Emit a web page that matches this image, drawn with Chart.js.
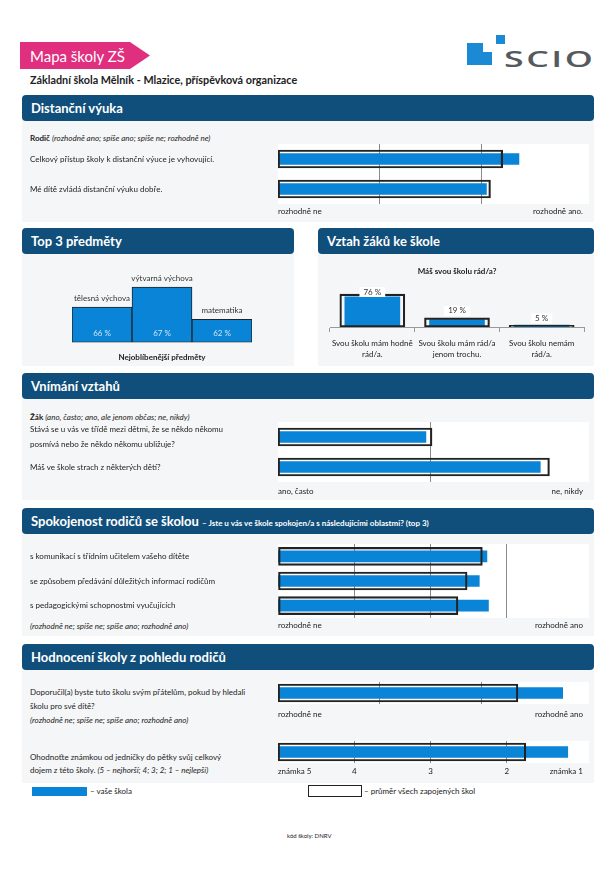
<!DOCTYPE html>
<html lang="cs">
<head>
<meta charset="UTF-8">
<title>Mapa školy ZŠ</title>
<script src="https://cdn.jsdelivr.net/npm/chart.js"></script>
<style>
  body { margin:0; width:616px; height:871px; position:relative; background:#fff; font-family: Lato, "Open Sans", sans-serif; color:#222; overflow:hidden; }
  .hdr { position:absolute; background:#104f7b; color:#fff; font-weight:bold; font-size:13px; border-radius:4px; padding-left:9px; box-sizing:border-box; height:26px; line-height:26px; white-space:nowrap; }
  .hdr small { font-size:8px; }
  .sec { position:absolute; background:#f5f6f7; }
  .t { position:absolute; font-size:8px; line-height:12px; white-space:nowrap; }
  canvas { position:absolute; }
</style>
</head>
<body>
<script>
// ---- data ----
// Distanční výuka (1 = rozhodně ne ... 4 = rozhodně ano)
const distLabels = ['Celkový přístup školy k distanční výuce je vyhovující.', 'Mé dítě zvládá distanční výuku dobře.'];
const distSchool = [3.37, 3.05];
const distAvg = [3.21, 3.09];
const distAxis = ['rozhodně ne', 'rozhodně ano.'];

// Top 3 předměty
const subjLabels = ['tělesná výchova', 'výtvarná výchova', 'matematika'];
const subjPct = [66, 67, 62];
const subjPodium = [35, 55, 23];   // bar heights as printed

// Vztah žáků ke škole
const likeLabels = [['Svou školu mám hodně', 'rád/a.'], ['Svou školu mám rád/a', 'jenom trochu.'], ['Svou školu nemám', 'rád/a.']];
const likeSchool = [76, 19, 5];
const likeAvg = [83, 23, 4];

// Vnímání vztahů (1 = ano, často ... 3 = ne, nikdy)
const relLabels = [['Stává se u vás ve třídě mezi dětmi, že se někdo někomu', 'posmívá nebo že někdo někomu ubližuje?'], 'Máš ve škole strach z některých dětí?'];
const relSchool = [1.97, 2.72];
const relAvg = [2.01, 2.78];
const relAxis = ['ano, často', 'ne, nikdy'];

// Spokojenost rodičů se školou (top 3)
const satLabels = ['s komunikací s třídním učitelem vašeho dítěte', 'se způsobem předávání důležitých informací rodičům', 's pedagogickými schopnostmi vyučujících'];
const satSchool = [68.5, 66, 69];
const satAvg = [67, 62, 59];
const satAxis = ['rozhodně ne', 'rozhodně ano'];

// Hodnocení školy z pohledu rodičů
const recSchool = [3.80];
const recAvg = [3.36];
const gradeSchool = [1.20];
const gradeAvg = [1.75];
const gradeTicks = ['známka 5', '4', '3', '2', 'známka 1'];

const BLUE = '#0a84d6';
const DARK = '#222';
</script>

<!-- header -->
<div style="position:absolute;left:20px;top:42px;width:130px;height:27px;background:#df2f7e;clip-path:polygon(0 0,110px 0,130px 50%,110px 100%,0 100%);"></div>
<div class="t" style="left:30px;top:46px;font-size:15px;line-height:20px;color:#fff;">Mapa školy ZŠ</div>
<div style="position:absolute;left:467px;top:43px;width:25px;height:22px;background:#1a8ad4;"></div>
<div style="position:absolute;left:483px;top:43px;width:9px;height:9px;background:#fff;"></div>
<div style="position:absolute;left:496px;top:35px;width:9px;height:9px;background:#1a8ad4;"></div>
<div class="t" style="left:504px;top:45px;font-family:'Open Sans',sans-serif;font-weight:600;font-size:21px;line-height:28px;letter-spacing:1.5px;color:#555a5e;transform:scaleX(1.7);transform-origin:left center;">SCIO</div>
<div class="t" style="left:30px;top:73px;font-size:10.8px;line-height:14px;font-weight:bold;">Základní škola Mělník - Mlazice, příspěvková organizace</div>

<!-- sections -->
<div class="sec" style="left:22px;top:110px;width:572px;height:112px;"></div>
<div class="hdr" style="left:22px;top:95px;width:572px;">Distanční výuka</div>
<div class="t" style="left:30px;top:132px;"><b>Rodič</b> <i>(rozhodně ano; spíše ano; spíše ne; rozhodně ne)</i></div>

<div class="sec" style="left:22px;top:244px;width:272px;height:122px;"></div>
<div class="hdr" style="left:22px;top:228px;width:272px;">Top 3 předměty</div>
<div class="sec" style="left:318px;top:244px;width:276px;height:122px;"></div>
<div class="hdr" style="left:318px;top:228px;width:276px;">Vztah žáků ke škole</div>

<div class="sec" style="left:22px;top:388px;width:572px;height:112px;"></div>
<div class="hdr" style="left:22px;top:373px;width:572px;">Vnímání vztahů</div>
<div class="t" style="left:30px;top:411px;"><b>Žák</b> <i>(ano, často; ano, ale jenom občas; ne, nikdy)</i></div>

<div class="sec" style="left:22px;top:523px;width:572px;height:113px;"></div>
<div class="hdr" style="left:22px;top:508px;width:572px;">Spokojenost rodičů se školou <small>– Jste u vás ve škole spokojen/a s následujícími oblastmi? (top 3)</small></div>
<div class="t" style="left:30px;top:620px;"><i>(rozhodně ne; spíše ne; spíše ano; rozhodně ano)</i></div>

<div class="sec" style="left:22px;top:659px;width:572px;height:124px;"></div>
<div class="hdr" style="left:22px;top:644px;width:572px;">Hodnocení školy z pohledu rodičů</div>
<div class="t" style="left:30px;top:685px;line-height:14px;">Doporučil(a) byste tuto školu svým přátelům, pokud by hledali<br>školu pro své dítě?<br><i>(rozhodně ne; spíše ne; spíše ano; rozhodně ano)</i></div>
<div class="t" style="left:30px;top:751px;line-height:13px;">Ohodnoťte známkou od jedničky do pětky svůj celkový<br>dojem z této školy. <i>(5 – nejhorší; 4; 3; 2; 1 – nejlepší)</i></div>

<!-- legend -->
<div style="position:absolute;left:32px;top:787px;width:55px;height:9px;background:#0a84d6;"></div>
<div class="t" style="left:90px;top:785px;">– vaše škola</div>
<div style="position:absolute;left:308px;top:785px;width:54px;height:12px;border:1.5px solid #222;box-sizing:border-box;background:#fff;"></div>
<div class="t" style="left:364px;top:785px;">– průměr všech zapojených škol</div>
<div class="t" style="left:287px;top:830px;font-size:6px;">kód školy: DNRV</div>

<canvas id="cDist" width="572" height="82" style="left:22px;top:140px;"></canvas>
<canvas id="cSubj" width="210" height="102" style="left:60px;top:262px;"></canvas>
<canvas id="cLike" width="276" height="99" style="left:318px;top:264px;"></canvas>
<canvas id="cRel" width="572" height="82" style="left:22px;top:418px;"></canvas>
<canvas id="cSat" width="572" height="96" style="left:22px;top:540px;"></canvas>
<canvas id="cRec" width="572" height="46" style="left:22px;top:678px;"></canvas>
<canvas id="cGrade" width="572" height="44" style="left:22px;top:737px;"></canvas>

<script>
Chart.defaults.font.family = "Lato, 'Open Sans', sans-serif";
Chart.defaults.color = DARK;

// white plot background for horizontal charts
Chart.register({
  id: 'plotBg',
  beforeDraw(chart, args, opts) {
    if (!opts.color) return;
    const a = chart.chartArea, ctx = chart.ctx;
    ctx.save();
    ctx.fillStyle = opts.color;
    ctx.fillRect(a.left, a.top, a.width + 6, a.height);
    ctx.restore();
  }
});

function noPad(s) {
  s.paddingTop = 0; s.paddingBottom = 0; s.paddingLeft = 0; s.paddingRight = 0;
}

function hChart(id, c) {
  return new Chart(document.getElementById(id), {
    type: 'bar',
    data: {
      labels: c.labels,
      datasets: [
        { label: 'průměr všech zapojených škol', data: c.avg.map(v => [c.base, v]), backgroundColor: 'rgba(0,0,0,0)',
          borderColor: DARK, borderWidth: 1.5, borderSkipped: false, barThickness: 18, grouped: false, order: 0 },
        { label: 'vaše škola', data: c.school.map(v => [c.base, v]), backgroundColor: BLUE,
          borderWidth: 0, barThickness: 11, grouped: false, order: 1 }
      ]
    },
    options: {
      indexAxis: 'y', responsive: false, animation: false,
      layout: { padding: { left: 8, right: 11, top: 4, bottom: 0 } },
      plugins: { legend: { display: false }, tooltip: { enabled: false }, plotBg: { color: '#fff' } },
      scales: {
        x: {
          min: c.min, max: c.max, reverse: !!c.reverse,
          ticks: { stepSize: c.step, align: 'inner', maxRotation: 0, autoSkip: false, padding: c.tickPad || 3, font: { size: 8 }, callback: c.tick },
          grid: { drawTicks: false, lineWidth: 1, color: g => (g.tick && (g.tick.value === c.min || g.tick.value === c.max)) ? 'rgba(0,0,0,0)' : '#8a8a8a' },
          border: { display: false },
          afterBuildTicks: s => { if (c.reverse) s.ticks.reverse(); },
          afterFit: s => { s.height = c.axisH || 18; noPad(s); }
        },
        y: {
          ticks: { display: c.showLabels !== false, autoSkip: false, crossAlign: 'far', padding: 0, font: { size: 8, lineHeight: 1.9 } },
          grid: { display: false, drawTicks: false },
          border: { display: false },
          afterFit: s => { s.width = 248; noPad(s); }
        }
      }
    }
  });
}

const ends = (names, min, max) => v => v === min ? names[0] : (v === max ? names[1] : '');

hChart('cDist', { labels: distLabels, school: distSchool, avg: distAvg, base: 1, min: 1, max: 4, step: 1, tick: ends(distAxis, 1, 4) });
hChart('cRel', { labels: relLabels, school: relSchool, avg: relAvg, base: 1, min: 1, max: 3, step: 1, tickPad: 5, tick: ends(relAxis, 1, 3) });
hChart('cSat', { labels: satLabels, school: satSchool, avg: satAvg, base: 0, min: 0, max: 100, step: 25, tick: ends(satAxis, 0, 100) });
hChart('cRec', { labels: [''], school: recSchool, avg: recAvg, base: 1, min: 1, max: 4, step: 1, showLabels: false, tickPad: 6, axisH: 20, tick: ends(satAxis, 1, 4) });
hChart('cGrade', { labels: [''], school: gradeSchool, avg: gradeAvg, base: 5, min: 1, max: 5, step: 1, reverse: true, showLabels: false, tickPad: 4, tick: v => gradeTicks[5 - v] });

// Top 3 předměty
new Chart(document.getElementById('cSubj'), {
  type: 'bar',
  data: { labels: subjLabels, datasets: [{ data: subjPodium, backgroundColor: BLUE, borderColor: DARK, borderWidth: 1, borderSkipped: false, barPercentage: 1, categoryPercentage: 1 }] },
  options: {
    responsive: false, animation: false,
    layout: { padding: { left: 12, right: 18, top: 20, bottom: 0 } },
    plugins: {
      legend: { display: false }, tooltip: { enabled: false },
      title: { display: true, position: 'bottom', text: 'Nejoblíbenější předměty', color: DARK, font: { size: 8, weight: 'bold', lineHeight: 1.2 }, padding: { top: 10, bottom: 2 } }
    },
    scales: { x: { display: false }, y: { display: false, min: 0, max: 60 } }
  },
  plugins: [{
    id: 'subjText',
    afterDatasetsDraw(chart) {
      const ctx = chart.ctx;
      ctx.save();
      ctx.font = "8px Lato, 'Open Sans', sans-serif";
      ctx.textAlign = 'center'; ctx.textBaseline = 'middle';
      chart.getDatasetMeta(0).data.forEach((bar, i) => {
        ctx.fillStyle = '#333';
        ctx.fillText(subjLabels[i], bar.x, bar.y - 9);
        ctx.fillStyle = '#cfe6f8';
        ctx.fillText(subjPct[i] + ' %', bar.x, bar.base - 9);
      });
      ctx.restore();
    }
  }]
});

// Vztah žáků ke škole
new Chart(document.getElementById('cLike'), {
  type: 'bar',
  data: {
    labels: likeLabels,
    datasets: [
      { label: 'průměr všech zapojených škol', data: likeAvg, backgroundColor: 'rgba(0,0,0,0)', borderColor: DARK, borderWidth: 1.5, borderSkipped: false, barThickness: 65, grouped: false, order: 0 },
      { label: 'vaše škola', data: likeSchool, backgroundColor: BLUE, barThickness: 55, grouped: false, order: 1 }
    ]
  },
  options: {
    responsive: false, animation: false,
    layout: { padding: { left: 12, right: 10, top: 0, bottom: 0 } },
    plugins: {
      legend: { display: false }, tooltip: { enabled: false },
      title: { display: true, text: 'Máš svou školu rád/a?', color: DARK, font: { size: 8, weight: 'bold', lineHeight: 1.2 }, padding: { top: 3, bottom: 16.4 } }
    },
    scales: {
      x: {
        ticks: { maxRotation: 0, autoSkip: false, padding: 6, font: { size: 8, lineHeight: 1.375 } },
        grid: { offset: true, drawOnChartArea: false, drawTicks: true, tickLength: 5, color: '#999' },
        border: { display: true, color: '#999' },
        afterFit: s => { s.height = 36; noPad(s); }
      },
      y: { display: false, min: 0, max: 86 }
    }
  },
  plugins: [{
    id: 'likeText',
    afterDatasetsDraw(chart) {
      const ctx = chart.ctx, a = chart.chartArea;
      ctx.save();
      ctx.font = "8px Lato, 'Open Sans', sans-serif";
      ctx.textAlign = 'center'; ctx.textBaseline = 'middle';
      chart.getDatasetMeta(0).data.forEach((bar, i) => {
        const y = Math.max(bar.y - 7, a.top - 1);
        const txt = likeSchool[i] + ' %';
        const w = ctx.measureText(txt).width + 8;
        ctx.fillStyle = '#fff';
        ctx.fillRect(bar.x - w / 2, y - 5, w, 10);
        ctx.fillStyle = '#333';
        ctx.fillText(txt, bar.x, y);
      });
      ctx.restore();
    }
  }]
});
</script>
</body>
</html>
